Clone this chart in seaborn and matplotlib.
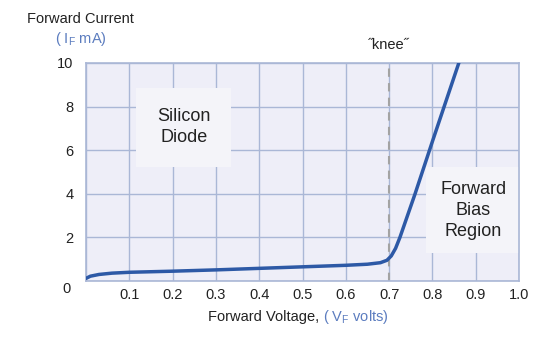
import matplotlib
matplotlib.use("Agg")
import matplotlib.pyplot as plt
import seaborn as sns
import pandas as pd

# Data
voltage = [0.0, 0.01, 0.03, 0.06, 0.1, 0.2, 0.3, 0.4, 0.5, 0.6, 0.65, 0.68, 0.695, 0.705, 0.715, 0.725, 0.76, 0.80, 0.861]
current = [0.12, 0.22, 0.30, 0.36, 0.40, 0.45, 0.51, 0.58, 0.65, 0.72, 0.77, 0.84, 0.95, 1.15, 1.5, 2.0, 4.0, 6.4, 10.0]
xtick_labels = ["0.1", "0.2", "0.3", "0.4", "0.5", "0.6", "0.7", "0.8", "0.9", "1.0"]
yticks = [0, 2, 4, 6, 8, 10]
ytick_labels = ["", "2", "4", "6", "8", "10"]
knee_v = 0.7

df = pd.DataFrame({"V": voltage, "I": current})

sns.set_theme(style="white")
plt.rcParams["font.family"] = ["Liberation Sans", "DejaVu Sans"]

W, H = 554, 338
fig = plt.figure(figsize=(W / 100, H / 100), dpi=100)
ax = fig.add_axes([86 / W, (H - 281) / H, (519 - 86) / W, (281 - 63) / H])

bg = "#eeeef8"
grid_c = "#aab7d6"
text_c = "#222222"
blue_t = "#5b7cbf"
ax.set_facecolor(bg)

ax.set_xlim(0, 1.0)
ax.set_ylim(0, 10)
ax.set_xticks([0.1 * i for i in range(11)])
ax.set_yticks(yticks)
ax.grid(True, color=grid_c, linewidth=1.0)
for s in ax.spines.values():
    s.set_color(grid_c)
    s.set_linewidth(1.2)
ax.set_axisbelow(True)

ax.set_xticklabels([""] + xtick_labels, fontsize=10.5, color=text_c)
ax.set_yticklabels(ytick_labels, fontsize=10.5, color=text_c)
ax.tick_params(axis="x", length=0, pad=5)
ax.tick_params(axis="y", length=0, pad=9)
ax.text(-0.035, -0.35, "0", transform=ax.transData, ha="right", va="center",
        fontsize=10.5, color=text_c)

ax.axvline(knee_v, color="#a3a3a3", linestyle=(0, (4, 3)), linewidth=1.5, zorder=2)

sns.lineplot(data=df, x="V", y="I", ax=ax, color="#2d59a6", linewidth=2.5, zorder=3)
ax.set_xlabel("")
ax.set_ylabel("")

box_fc = "#f4f4f9"
ax.text(0.226, 7.05, "Silicon\nDiode", ha="center", va="center", fontsize=13,
        color=text_c, linespacing=1.3,
        bbox=dict(boxstyle="square,pad=1.15", facecolor=box_fc, edgecolor="none"), zorder=2.5)
ax.text(0.894, 3.25, "Forward\nBias\nRegion", ha="center", va="center", fontsize=13,
        color=text_c, linespacing=1.3,
        bbox=dict(boxstyle="square,pad=0.75", facecolor=box_fc, edgecolor="none"), zorder=2.5)

# Titles
fig.text(27 / W, 1 - 19 / H, "Forward Current", ha="left", va="center",
         fontsize=10.5, color=text_c)
fig.text(55 / W, 1 - 39 / H, r"( I$_\mathregular{F}$ mA)", ha="left", va="center",
         fontsize=10.5, color=blue_t)
fig.text(389 / W, 1 - 45 / H, "\u02ddknee\u02dd", ha="center", va="center",
         fontsize=10.5, color=text_c)
t1 = fig.text(208 / W, 1 - 317 / H, "Forward Voltage, ", ha="left", va="center",
              fontsize=10.5, color=text_c)
fig.canvas.draw()
bb = t1.get_window_extent(renderer=fig.canvas.get_renderer())
fig.text(bb.x1 / W, 1 - 317 / H, r"( V$_\mathregular{F}$ volts)", ha="left", va="center",
         fontsize=10.5, color=blue_t)

fig.savefig("out.png", dpi=100, facecolor="white")
